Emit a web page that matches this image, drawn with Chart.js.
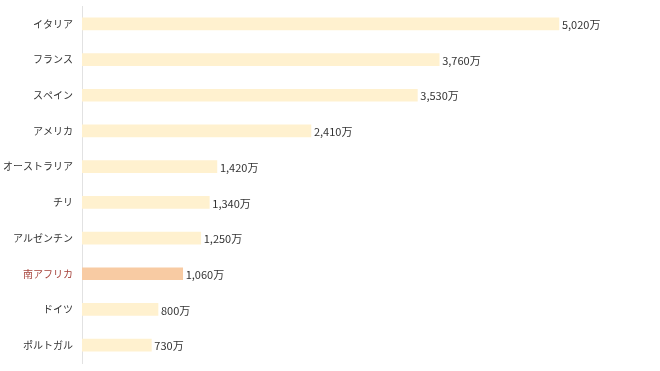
<!DOCTYPE html>
<html>
<head>
<meta charset="utf-8">
<script src="https://cdn.jsdelivr.net/npm/chart.js@4"></script>
<style>
  html, body { margin: 0; padding: 0; background: #fff; }
  #wrap { width: 660px; height: 371px; }
</style>
</head>
<body>
<div id="wrap"><canvas id="chart"></canvas></div>
<script>
// Countries and values (万)
const countries = ['イタリア', 'フランス', 'スペイン', 'アメリカ', 'オーストラリア', 'チリ', 'アルゼンチン', '南アフリカ', 'ドイツ', 'ポルトガル'];
const values = [5020, 3760, 3530, 2410, 1420, 1340, 1250, 1060, 800, 730];
const highlight = '南アフリカ';

const FONT = '"Noto Sans CJK JP", "Noto Sans", sans-serif';

// Draws "5,020万" style labels at the end of each bar
const valueLabels = {
    id: 'valueLabels',
    afterDatasetsDraw(chart) {
        const ctx = chart.ctx;
        const meta = chart.getDatasetMeta(0);
        ctx.save();
        ctx.font = '11px ' + FONT;
        ctx.fillStyle = '#333';
        ctx.textAlign = 'left';
        ctx.textBaseline = 'middle';
        meta.data.forEach((bar, i) => {
            ctx.fillText(values[i].toLocaleString('en-US') + '万', bar.x + 3, bar.y + 1);
        });
        ctx.restore();
    }
};

new Chart(document.getElementById('chart'), {
    type: 'bar',
    data: {
        labels: countries,
        datasets: [{
            data: values,
            backgroundColor: countries.map(c => c === highlight ? '#f8cba3' : '#fff1cf'),
            borderWidth: 0,
            barThickness: 12
        }]
    },
    options: {
        indexAxis: 'y',
        responsive: true,
        maintainAspectRatio: false,
        animation: false,
        layout: { autoPadding: false, padding: { top: 6, bottom: 8, right: 8, left: 0 } },
        scales: {
            x: {
                min: 0,
                max: 6000,
                display: false,
                grid: { display: false }
            },
            y: {
                afterFit: s => {
                    s.width = 82;
                    s.paddingTop = 0;
                    s.paddingBottom = 0;
                },
                grid: { display: false, drawTicks: false },
                border: { display: true, color: '#e2e2e2', width: 1 },
                ticks: {
                    padding: 9,
                    font: { family: FONT, size: 10 },
                    color: ctx => countries[ctx.index] === highlight ? '#a5423b' : '#333'
                }
            }
        },
        plugins: {
            legend: { display: false },
            tooltip: { enabled: false }
        }
    },
    plugins: [valueLabels]
});
</script>
</body>
</html>
